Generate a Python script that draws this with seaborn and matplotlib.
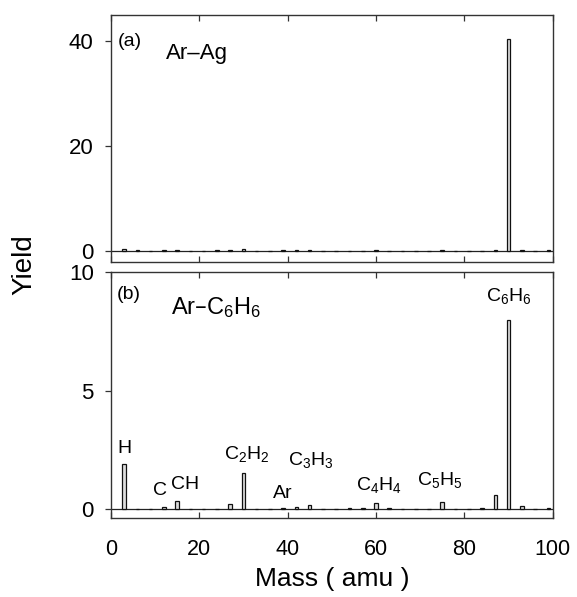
import numpy as np
import pandas as pd
import matplotlib
matplotlib.use('Agg')
import matplotlib.pyplot as plt
import seaborn as sns

# mass axis sampled every 3 amu
mass = list(range(3, 100, 3))

# (a) Ar-Ag yields
yield_ag = {3: 0.35, 6: 0.2, 12: 0.2, 15: 0.2, 24: 0.2, 27: 0.2, 30: 0.4,
            39: 0.2, 42: 0.2, 45: 0.2, 60: 0.2, 75: 0.2, 87: 0.2, 90: 40.4,
            93: 0.2, 99: 0.2}
# (b) Ar-C6H6 yields
yield_bz = {3: 1.9, 12: 0.1, 15: 0.35, 24: 0.02, 27: 0.24, 30: 1.54, 39: 0.03,
            42: 0.11, 45: 0.17, 48: 0.02, 54: 0.03, 57: 0.03, 60: 0.25, 63: 0.03,
            69: 0.02, 75: 0.3, 84: 0.07, 87: 0.6, 90: 8.0, 93: 0.12, 99: 0.07}

peak_labels = ['H', 'C', 'CH', 'C$_2$H$_2$', 'Ar', 'C$_3$H$_3$', 'C$_4$H$_4$',
               'C$_5$H$_5$', 'C$_6$H$_6$']
peak_x = [3.2, 11.2, 16.7, 30.7, 39.0, 45.2, 60.7, 74.4, 90.0]
peak_y = [2.58, 0.78, 1.05, 2.33, 0.66, 2.08, 1.02, 1.23, 9.0]

sns.set_style('white')
plt.rcParams['font.family'] = ['Liberation Sans', 'DejaVu Sans']
plt.rcParams['mathtext.default'] = 'regular'
plt.rcParams['text.color'] = 'black'
plt.rcParams['axes.labelcolor'] = 'black'

df_a = pd.DataFrame({'mass': mass, 'y': [yield_ag.get(m, 0.0) for m in mass]})
df_b = pd.DataFrame({'mass': mass, 'y': [yield_bz.get(m, 0.0) for m in mass]})

fig = plt.figure(figsize=(5.77, 5.97), dpi=100)
ax_a = fig.add_axes([0.192, 0.561, 0.766, 0.414])
ax_b = fig.add_axes([0.192, 0.132, 0.766, 0.412])

for ax, df in [(ax_a, df_a), (ax_b, df_b)]:
    sns.barplot(data=df, x='mass', y='y', native_scale=True, width=0.27,
                color='#dddddd', saturation=1, edgecolor='#111111',
                linewidth=0.9, ax=ax)
    ax.axhline(0, color='#222222', lw=0.9, zorder=0)
    ax.set_xlim(0, 100)
    ax.set_xlabel('')
    ax.set_ylabel('')
    for s in ax.spines.values():
        s.set_visible(True)
        s.set_color('#333333')
        s.set_linewidth(1.0)
    ax.set_xticks([0, 20, 40, 60, 80, 100])
    ax.tick_params(axis='x', direction='in', top=True, bottom=True,
                   length=4.5, width=0.9, colors='#333333', labelcolor='black',
                   labelsize=15.5, pad=15)
    ax.tick_params(axis='y', direction='out', left=True, right=False,
                   length=4.3, width=0.9, colors='#333333', labelcolor='black',
                   labelsize=16, pad=8)

ax_a.set_ylim(-2.1, 45)
ax_a.set_yticks([0, 20, 40])
ax_a.tick_params(axis='x', labelbottom=False)
ax_a.text(1.6, 40, '(a)', fontsize=14, va='center', ha='left')
ax_a.text(12.4, 37.7, 'Ar\u2013Ag', fontsize=16, va='center', ha='left')

ax_b.set_ylim(-0.38, 10)
ax_b.set_yticks([0, 5, 10])
ax_b.text(1.4, 9.07, '(b)', fontsize=14, va='center', ha='left')
ax_b.text(13.6, 8.5, 'Ar\u2013C$_6$H$_6$', fontsize=17, va='center', ha='left')
for lab, x, y in zip(peak_labels, peak_x, peak_y):
    ax_b.text(x, y, lab, fontsize=14, ha='center', va='center')

ax_b.set_xlabel('Mass ( amu )', fontsize=19, labelpad=5)
fig.text(0.042, 0.556, 'Yield', rotation=90, fontsize=20, va='center', ha='center')

fig.savefig('out.png', dpi=100)
